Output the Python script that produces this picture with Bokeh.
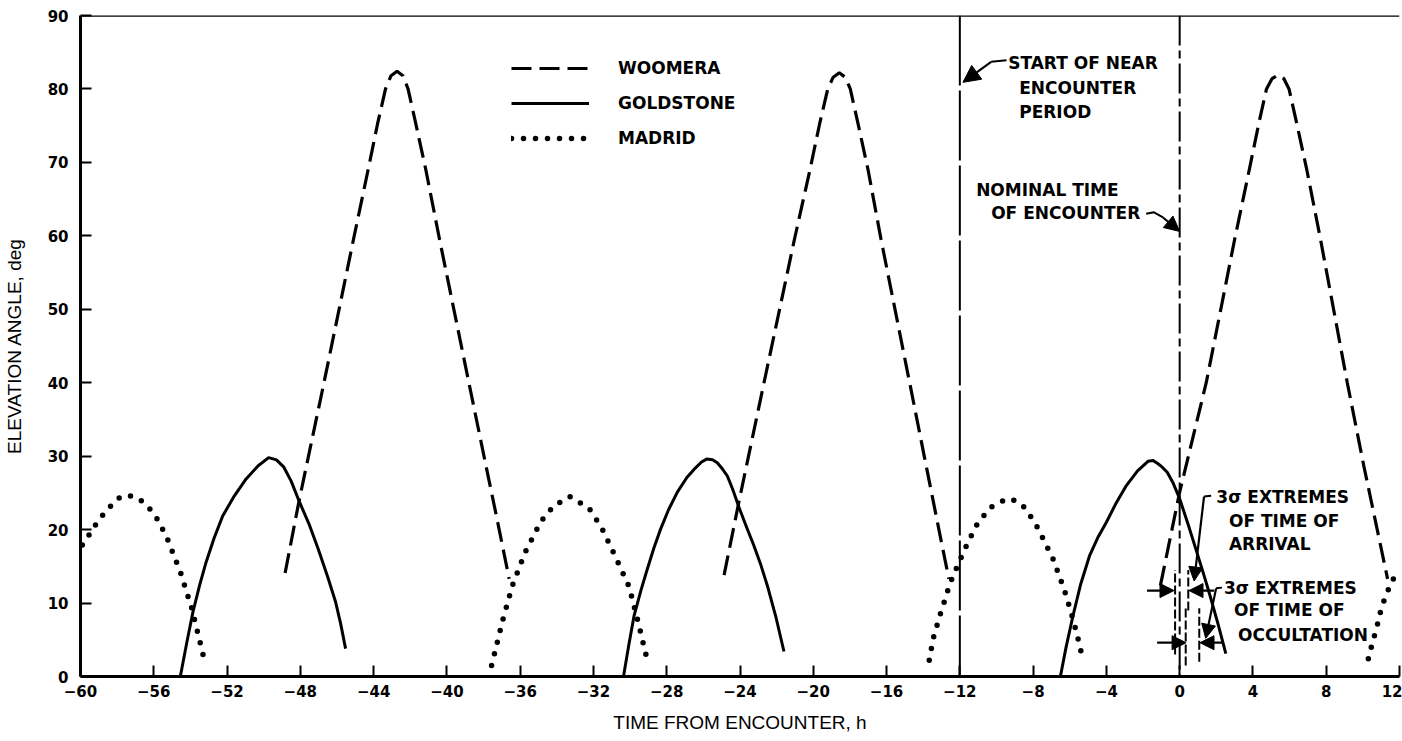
from bokeh.plotting import figure
from bokeh.models import (Span, Label, Arrow, NormalHead, FixedTicker, Legend,
                          LegendItem, Range1d)
from bokeh.embed import file_html
from bokeh.resources import INLINE

# ---------------- data ----------------
x_ticks = [-60, -56, -52, -48, -44, -40, -36, -32, -28, -24, -20, -16, -12, -8, -4, 0, 4, 8, 12]
x_tick_labels = ["\u221260", "\u221256", "\u221252", "\u221248", "\u221244", "\u221240", "\u221236",
                 "\u221232", "\u221228", "\u221224", "\u221220", "\u221216", "\u221212", "\u22128",
                 "\u22124", "0", "4", "8", "12"]
y_ticks = [0, 10, 20, 30, 40, 50, 60, 70, 80, 90]

woomera_1_h = [-48.83, -48.07, -46.71, -45.1, -44.3, -43.78, -43.35, -43.05, -42.72, -42.4, -42.12,
               -41.7, -41.15, -40.4, -38.8, -37.9, -37.3, -36.6]
woomera_1_el = [14.1, 23.9, 40.0, 59.5, 69.0, 75.3, 80.0, 81.8, 82.4, 81.8, 80.0,
                75.3, 69.0, 59.5, 40.0, 29.1, 21.9, 13.3]
woomera_2_h = [-24.87, -24.05, -22.69, -21.03, -20.18, -19.65, -19.21, -18.91, -18.58, -18.26, -17.98,
               -17.56, -17.01, -16.3, -14.74, -13.87, -13.11, -12.6]
woomera_2_el = [13.8, 23.9, 40.0, 59.5, 69.0, 75.3, 80.0, 81.6, 82.2, 81.6, 80.0,
                75.3, 69.0, 59.5, 40.0, 29.1, 19.6, 13.3]
woomera_3_h = [-1.05, 0.0, 1.45, 3.0, 3.8, 4.32, 4.74, 5.04, 5.37, 5.69, 5.97,
               6.39, 6.94, 7.69, 9.15, 10.05, 11.35]
woomera_3_el = [12.4, 25.1, 40.0, 59.5, 69.0, 75.3, 80.0, 81.4, 81.9, 81.4, 80.0,
                75.3, 69.0, 59.5, 40.0, 28.7, 13.3]

goldstone_1_h = [-54.55, -54.2, -53.86, -53.5, -53.14, -52.7, -52.23, -51.6, -50.96, -50.3, -49.73,
                 -49.3, -48.9, -48.5, -48.07, -47.5, -47.0, -46.5, -46.07, -45.8, -45.53]
goldstone_1_el = [0.0, 4.6, 8.8, 12.4, 15.6, 18.9, 21.9, 24.6, 26.9, 28.7, 29.8,
                  29.5, 28.5, 26.6, 23.9, 20.6, 17.2, 13.5, 10.1, 7.2, 3.8]
goldstone_2_h = [-30.36, -30.07, -29.78, -29.4, -29.05, -28.7, -28.33, -27.9, -27.42, -26.9, -26.51,
                 -26.1, -25.82, -25.5, -25.24, -25.0, -24.69, -24.4, -24.05, -23.65, -23.24,
                 -22.85, -22.51, -22.05, -21.6]
goldstone_2_el = [0.0, 4.3, 8.3, 11.8, 14.7, 17.5, 20.1, 22.7, 25.1, 27.1, 28.2,
                  29.2, 29.6, 29.5, 29.1, 28.4, 27.3, 25.5, 23.0, 20.4, 17.8,
                  15.1, 12.4, 8.2, 3.4]
goldstone_3_h = [-6.51, -6.2, -5.82, -5.4, -4.91, -4.45, -4.0, -3.45, -2.91, -2.3, -1.73,
                 -1.45, -1.2, -0.95, -0.68, -0.35, 0.0, 0.45, 0.94, 1.3, 1.66, 2.1, 2.52]
goldstone_3_el = [0.0, 4.0, 8.3, 12.6, 16.5, 19.0, 21.0, 23.7, 26.0, 28.0, 29.3,
                  29.4, 29.0, 28.5, 27.8, 26.3, 24.2, 20.8, 16.9, 14.0, 11.0, 7.1, 3.1]

madrid_1_h = [-59.9, -59.55, -59.22, -58.81, -58.39, -57.94, -57.43, -56.82, -56.31, -55.91, -55.64,
              -55.37, -55.13, -54.86, -54.62, -54.41, -54.22, -54.01, -53.84, -53.70, -53.54,
              -53.39, -53.25]
madrid_1_el = [17.9, 19.2, 20.5, 21.9, 23.1, 24.25, 24.7, 24.25, 23.1, 21.9, 20.6,
               19.4, 18.0, 16.15, 14.75, 13.2, 11.5, 10.1, 8.4, 6.9, 5.4, 3.75, 2.35]
madrid_2_h = [-37.56, -36.95, -36.42, -35.73, -34.87, -34.18, -33.3, -32.24, -31.56, -30.78,
              -30.05, -29.6, -29.05]
madrid_2_el = [1.5, 7.7, 12.4, 16.9, 21.1, 23.2, 24.5, 22.9, 20.3, 16.2, 12.2, 7.8, 2.1]
madrid_3_h = [-13.67, -13.45, -13.09, -12.73, -12.55, -12.09, -11.55, -11.0, -10.27, -9.42, -8.91,
              -8.51, -7.91, -7.42, -6.91, -6.31, -5.96, -5.64, -5.27]
madrid_3_el = [2.2, 5.2, 8.3, 11.1, 12.6, 15.3, 18.3, 21.0, 23.1, 24.2, 23.9,
               23.1, 21.0, 18.6, 16.0, 11.9, 9.0, 6.1, 2.2]
madrid_4_h = [10.3, 10.49, 10.76, 10.94, 11.12, 11.3, 11.57, 11.84, 12.0]
madrid_4_el = [2.4, 4.3, 6.7, 8.6, 10.1, 11.3, 12.9, 14.0, 14.3]

series_names = ["WOOMERA", "GOLDSTONE", "MADRID"]

# event markers (hours from encounter)
near_encounter_start = -12
nominal_encounter = 0

# 3-sigma extreme markers: x position, y from, y to
extreme_x = [-0.25, 0.33, 0.47, 1.07]
extreme_y0 = [3.0, 1.5, 9.0, 2.0]
extreme_y1 = [14.5, 9.5, 14.5, 9.3]

# annotation texts and anchors
ann_texts = ["START OF NEAR", "ENCOUNTER", "PERIOD", "NOMINAL TIME", "OF ENCOUNTER",
             "3\u03c3 EXTREMES", "OF TIME OF", "ARRIVAL",
             "3\u03c3 EXTREMES", "OF TIME OF", "OCCULTATION"]
ann_x = [-9.36, -8.76, -8.76, -11.11, -10.29, 2.0, 2.69, 2.69, 2.42, 2.97, 3.19]
ann_y = [83.5, 80.1, 76.8, 66.2, 63.1, 24.4, 21.2, 18.1, 12.0, 9.0, 5.6]

# leader lines (polyline part) and arrows (start -> tip)
leader_x = [[-9.45, -10.29], [-1.83, -1.4, -0.91], [1.72, 1.33], [2.31, 1.99]]
leader_y = [[83.9, 83.7], [63.0, 63.2, 62.5], [24.6, 24.5], [12.1, 12.0]]
arrow_x0 = [-10.29, -0.91, 1.33, 1.99, -1.78, 1.88, -1.23, 2.37]
arrow_y0 = [83.7, 62.5, 24.5, 12.0, 11.7, 11.7, 4.6, 4.6]
arrow_x1 = [-11.83, 0.0, 0.79, 1.42, -0.31, 0.51, 0.35, 1.11]
arrow_y1 = [80.9, 60.6, 13.0, 5.2, 11.7, 11.7, 4.6, 4.6]
arrow_head = [17, 15, 14, 14, 14, 14, 14, 14]

# ---------------- figure ----------------
FONT = "DejaVu Sans"

p = figure(width=1402, height=741, output_backend="svg", toolbar_location=None,
           x_range=Range1d(-60, 12), y_range=Range1d(0, 90),
           min_border_left=79, min_border_right=3, min_border_top=15, min_border_bottom=65)
p.outline_line_color = None
p.xgrid.visible = False
p.ygrid.visible = False
p.background_fill_color = "white"
p.border_fill_color = "white"

for ax in (p.xaxis[0], p.yaxis[0]):
    ax.axis_line_width = 3
    ax.axis_line_color = "black"
    ax.major_tick_in = 11
    ax.major_tick_out = 0
    ax.major_tick_line_width = 2
    ax.major_tick_line_color = "black"
    ax.minor_tick_line_color = None
    ax.major_label_text_font = FONT
    ax.major_label_text_font_style = "bold"
    ax.major_label_text_font_size = "15px"
    ax.major_label_text_color = "black"
    ax.axis_label_text_font = "Liberation Sans"
    ax.axis_label_text_font_style = "normal"
    ax.axis_label_text_font_size = "19px"
    ax.axis_label_text_color = "black"

p.xaxis.ticker = FixedTicker(ticks=x_ticks)
p.xaxis.major_label_overrides = {t: lab for t, lab in zip(x_ticks, x_tick_labels)}
p.xaxis.major_label_standoff = 8
p.xaxis.axis_label = "TIME FROM ENCOUNTER, h"
p.xaxis.axis_label_standoff = 12

p.yaxis.ticker = FixedTicker(ticks=y_ticks)
p.yaxis.major_label_standoff = 12
p.yaxis.axis_label = "ELEVATION ANGLE, deg"
p.yaxis.axis_label_standoff = 20

# top frame line
p.add_layout(Span(location=90, dimension="width", line_color="black", line_width=2.5))

# event lines
p.add_layout(Span(location=near_encounter_start, dimension="height", line_color="black",
                  line_width=2, line_dash="70 5"))
p.add_layout(Span(location=nominal_encounter, dimension="height", line_color="black",
                  line_width=2, line_dash="30 5 8 5"))

dash_kw = dict(line_color="black", line_width=3.2, line_dash="20 8")
solid_kw = dict(line_color="black", line_width=3, line_join="round")
dot_kw = dict(line_color="black", line_width=5.5, line_dash="0 12", line_cap="round")

w_r = [p.line(h, e, **dash_kw) for h, e in [(woomera_1_h, woomera_1_el),
                                            (woomera_2_h, woomera_2_el),
                                            (woomera_3_h, woomera_3_el)]]
g_r = [p.line(h, e, **solid_kw) for h, e in [(goldstone_1_h, goldstone_1_el),
                                             (goldstone_2_h, goldstone_2_el),
                                             (goldstone_3_h, goldstone_3_el)]]
m_r = [p.line(h, e, **dot_kw) for h, e in [(madrid_1_h, madrid_1_el),
                                           (madrid_2_h, madrid_2_el),
                                           (madrid_3_h, madrid_3_el),
                                           (madrid_4_h, madrid_4_el)]]

# 3-sigma extremes markers
p.segment(x0=extreme_x, y0=extreme_y0, x1=extreme_x, y1=extreme_y1,
          line_color="black", line_width=2, line_dash="9 3")

# leaders and arrows
for lx, ly in zip(leader_x, leader_y):
    p.line(lx, ly, line_color="black", line_width=2)
for x0, y0, x1, y1, hs in zip(arrow_x0, arrow_y0, arrow_x1, arrow_y1, arrow_head):
    p.add_layout(Arrow(end=NormalHead(size=hs, line_color="black", fill_color="black", line_width=1),
                       x_start=x0, y_start=y0, x_end=x1, y_end=y1,
                       line_color="black", line_width=2.2))

# annotation texts
for t, x, y in zip(ann_texts, ann_x, ann_y):
    p.add_layout(Label(x=x, y=y, text=t, text_font=FONT, text_font_style="bold",
                       text_font_size="17px", text_baseline="middle", text_align="left",
                       text_color="black"))

legend = Legend(items=[LegendItem(label=series_names[0], renderers=[w_r[0]]),
                       LegendItem(label=series_names[1], renderers=[g_r[0]]),
                       LegendItem(label=series_names[2], renderers=[m_r[0]])],
                location=(431, 528), border_line_color=None, background_fill_alpha=0,
                label_text_font=FONT, label_text_font_style="bold", label_text_font_size="17px",
                label_text_color="black",
                glyph_width=78, glyph_height=20, label_height=20, spacing=15,
                padding=0, margin=0, label_standoff=29)
p.add_layout(legend)

open("out.html", "w").write(file_html(p, INLINE))
